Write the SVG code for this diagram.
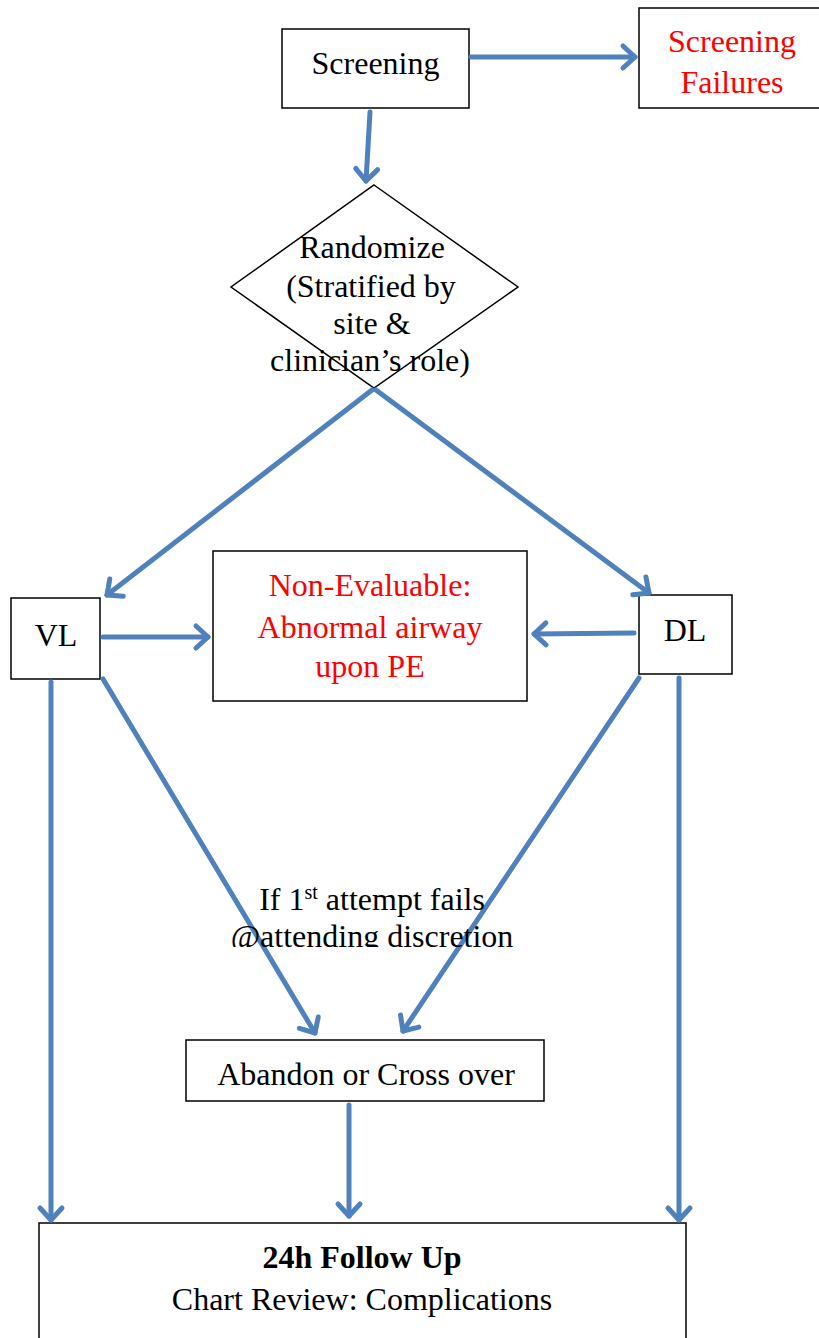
<svg xmlns="http://www.w3.org/2000/svg" width="819" height="1338" viewBox="0 0 819 1338">
<style>
.box{fill:#fff;stroke:#000;stroke-width:1.5}
.t{font-family:"Liberation Serif","Times New Roman",serif;font-size:32px;text-anchor:middle;fill:#000}
.red{fill:#ff0000}
.b{font-weight:bold}
.c{fill:none;stroke:#4F81BD;stroke-width:5;stroke-linecap:round;marker-end:url(#ah)}
</style>
<defs>
<marker id="ah" markerUnits="userSpaceOnUse" markerWidth="30" markerHeight="30" refX="20" refY="15" orient="auto" viewBox="0 0 30 30">
<path d="M8,4 L20,15 L8,26" fill="none" stroke="#4F81BD" stroke-width="5" stroke-linecap="round" stroke-linejoin="round"/>
</marker>
<clipPath id="lblclip"><rect x="200" y="870" width="340" height="77"/></clipPath>
</defs>
<g id="screening"><rect class="box" x="282" y="29" width="187" height="79"/><text class="t" x="375.5" y="74">Screening</text></g>
<g id="screening-failures"><rect class="box" x="639" y="8" width="182" height="100"/><text class="t red" x="732" y="52">Screening</text><text class="t red" x="732" y="93">Failures</text></g>
<g id="randomize"><polygon points="374,185 518,287 374,388 231,287" fill="#fff" stroke="#000" stroke-width="1.5"/>
<text class="t" x="372" y="258">Randomize</text><text class="t" x="371" y="297">(Stratified by</text><text class="t" x="372" y="334">site &amp;</text><text class="t" x="370" y="371">clinician’s role)</text></g>
<g id="vl"><rect class="box" x="11" y="598" width="89" height="81"/><text class="t" x="56" y="646">VL</text></g>
<g id="dl"><rect class="box" x="639" y="595" width="93" height="79"/><text class="t" x="685" y="641">DL</text></g>
<g id="non-evaluable"><rect class="box" x="213" y="551" width="314" height="150"/><text class="t red" x="370" y="596">Non-Evaluable:</text><text class="t red" x="370" y="638">Abnormal airway</text><text class="t red" x="370" y="677">upon PE</text></g>
<g id="abandon"><rect class="box" x="186" y="1040" width="358" height="61"/><text class="t" x="366" y="1085">Abandon or Cross over</text></g>
<g id="followup"><rect class="box" x="39" y="1223" width="647" height="130"/><text class="t b" x="362" y="1268">24h Follow Up</text><text class="t" x="362" y="1310">Chart Review: Complications</text></g>
<g id="connectors">
<line class="c" x1="471" y1="57" x2="635" y2="57"/>
<line class="c" x1="370" y1="112" x2="366" y2="181"/>
<line class="c" x1="372" y1="390" x2="107" y2="595"/>
<line class="c" x1="376" y1="390" x2="649" y2="593"/>
<line class="c" x1="103" y1="637" x2="208" y2="637"/>
<line class="c" x1="634" y1="633" x2="534" y2="634"/>
<line class="c" x1="51" y1="682" x2="51" y2="1220"/>
<line class="c" x1="679" y1="678" x2="679" y2="1220"/>
<line class="c" x1="103" y1="679" x2="315" y2="1033"/>
<line class="c" x1="639" y1="678" x2="403" y2="1031"/>
<line class="c" x1="349" y1="1105" x2="349" y2="1216"/>
</g>
<g id="label" clip-path="url(#lblclip)">
<text class="t" x="372" y="910">If 1<tspan dy="-11" font-size="20">st</tspan><tspan dy="11"> attempt fails</tspan></text>
<text class="t" x="372" y="947">@attending discretion</text>
</g>
</svg>
